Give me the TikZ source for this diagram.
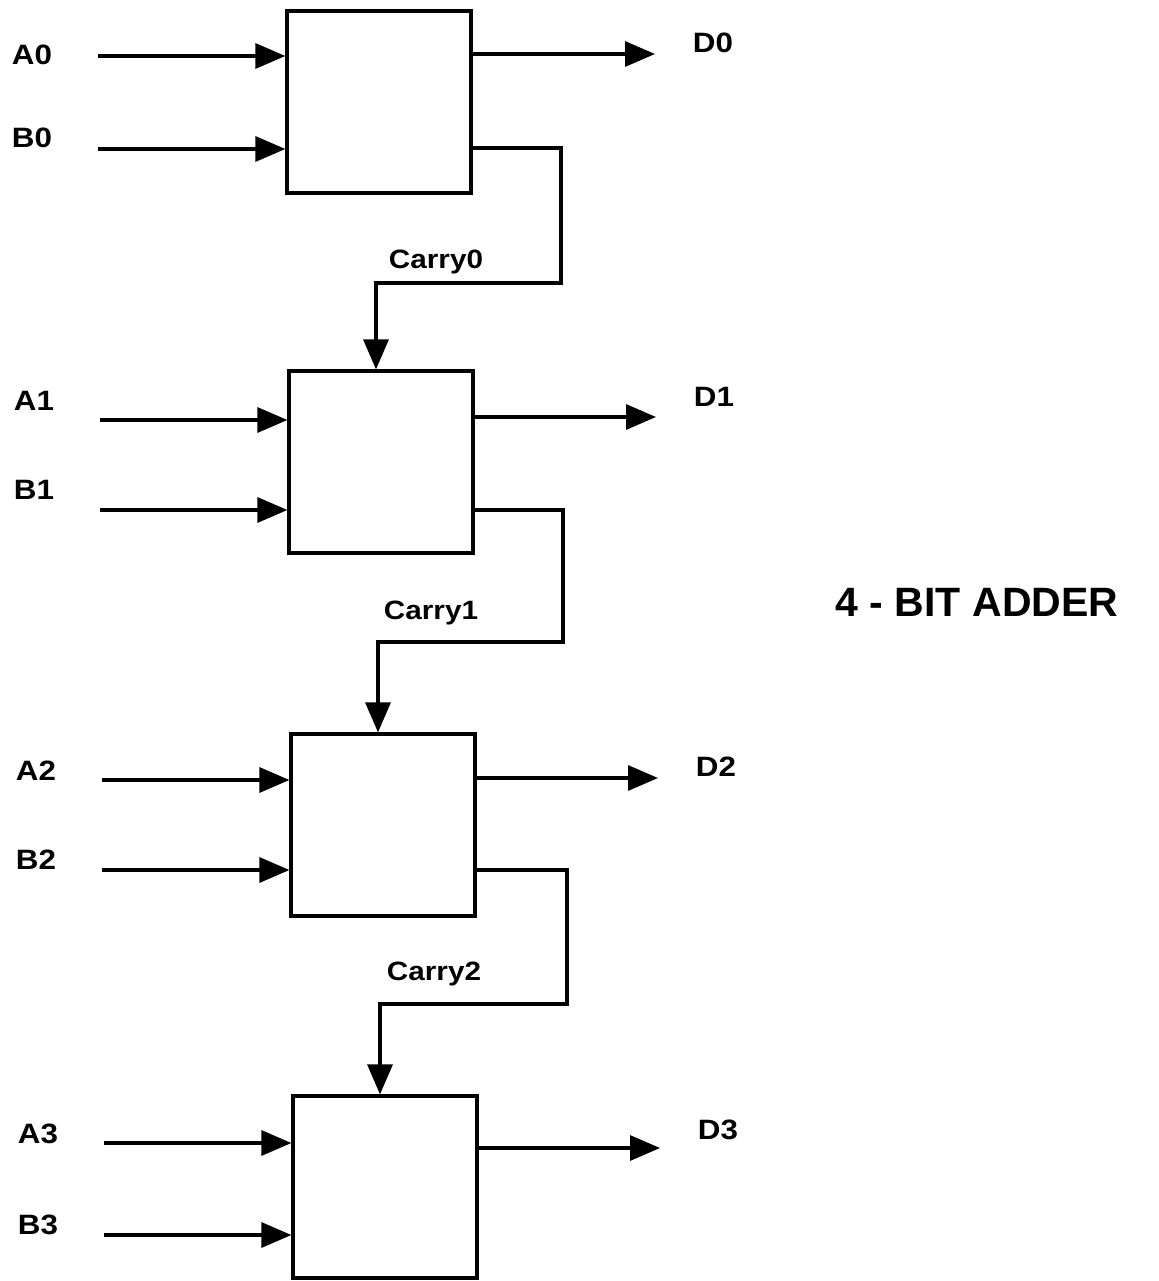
\documentclass[tikz,border=0pt]{standalone}
\usepackage{fontspec}
\setmainfont{Liberation Sans}
\usetikzlibrary{arrows.meta}
\newcommand\widetext[1]{\scalebox{1.12}[1]{#1}}
\begin{document}
\begin{tikzpicture}[x=1pt,y=-1pt,
  wire/.style={line width=3.2pt},
  sig/.style={wire,-{Triangle[length=30pt,width=25pt]}},
  adder/.style={draw,line width=3.2pt,minimum width=184pt,minimum height=182pt,inner sep=0pt},
  lbl/.style={font=\fontsize{28}{30}\selectfont\bfseries,inner sep=0pt},
  clbl/.style={font=\fontsize{26.5}{28}\selectfont\bfseries,inner sep=0pt}]
\useasboundingbox (0,0) rectangle (1158,1281);
% boxes
\node[adder] (b0) at (379,102) {};
\node[adder] (b1) at (381,462) {};
\node[adder] (b2) at (383,825) {};
\node[adder] (b3) at (385,1187) {};
% labels
\node[lbl] (lA0) at (32,55) {\widetext{A0}};
\node[lbl] (lB0) at (32,138) {\widetext{B0}};
\node[lbl] (lA1) at (34,401) {\widetext{A1}};
\node[lbl] (lB1) at (34,490) {\widetext{B1}};
\node[lbl] (lA2) at (36,771) {\widetext{A2}};
\node[lbl] (lB2) at (36,860) {\widetext{B2}};
\node[lbl] (lA3) at (38,1134) {\widetext{A3}};
\node[lbl] (lB3) at (38,1225) {\widetext{B3}};
\node[lbl] (lD0) at (713,43) {\widetext{D0}};
\node[lbl] (lD1) at (714,397) {\widetext{D1}};
\node[lbl] (lD2) at (716,767) {\widetext{D2}};
\node[lbl] (lD3) at (718,1130) {\widetext{D3}};
\node[clbl] (c0) at (436,262) {\widetext{Carry0}};
\node[clbl] (c1) at (431,613) {\widetext{Carry1}};
\node[clbl] (c2) at (434,974) {\widetext{Carry2}};
\node[font=\fontsize{41}{44}\selectfont\bfseries,inner sep=0pt] (title) at (977,602) {4 - BIT ADDER};
% input start points
\coordinate (a0) at (98,56);
\coordinate (s0) at (98,149);
\coordinate (a1) at (100,420);
\coordinate (s1) at (100,510);
\coordinate (a2) at (102,780);
\coordinate (s2) at (102,870);
\coordinate (a3) at (104,1143);
\coordinate (s3) at (104,1235);
% output end points
\coordinate (d0) at (655,54);
\coordinate (d1) at (656,417);
\coordinate (d2) at (658,778);
\coordinate (d3) at (660,1148);
% inputs
\draw[sig] (a0) -- (a0 -| b0.west);
\draw[sig] (s0) -- (s0 -| b0.west);
\draw[sig] (a1) -- (a1 -| b1.west);
\draw[sig] (s1) -- (s1 -| b1.west);
\draw[sig] (a2) -- (a2 -| b2.west);
\draw[sig] (s2) -- (s2 -| b2.west);
\draw[sig] (a3) -- (a3 -| b3.west);
\draw[sig] (s3) -- (s3 -| b3.west);
% outputs
\draw[sig] (d0 -| b0.east) -- (d0);
\draw[sig] (d1 -| b1.east) -- (d1);
\draw[sig] (d2 -| b2.east) -- (d2);
\draw[sig] (d3 -| b3.east) -- (d3);
% carries
\draw[sig] (b0.east |- 0,148) -- (561,148) -- (561,283) -- (376,283) -- (b1.north -| 376,0);
\draw[sig] (b1.east |- 0,510) -- (563,510) -- (563,642) -- (378,642) -- (b2.north -| 378,0);
\draw[sig] (b2.east |- 0,870) -- (567,870) -- (567,1004) -- (380,1004) -- (b3.north -| 380,0);
\end{tikzpicture}
\end{document}
